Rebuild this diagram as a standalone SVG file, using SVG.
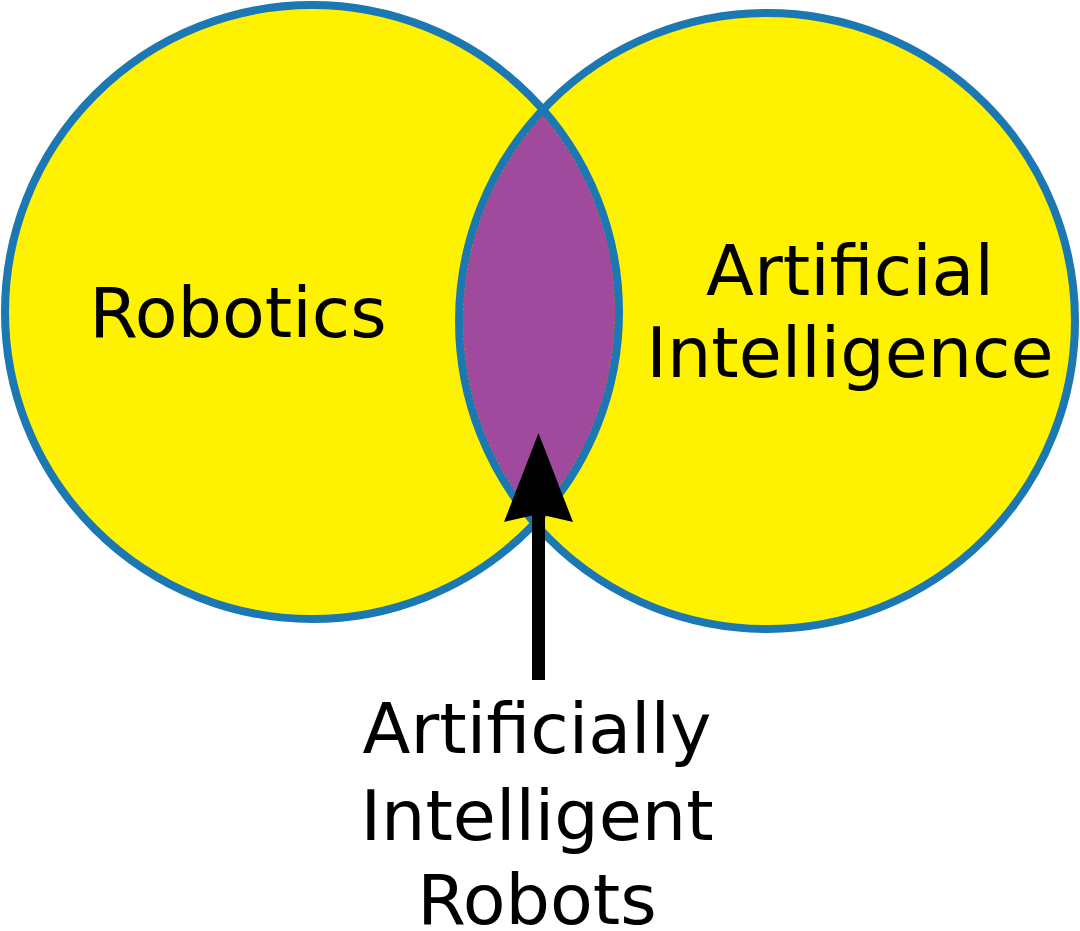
<svg xmlns="http://www.w3.org/2000/svg" width="1080" height="931" viewBox="0 0 1080 931">
  <style>
    .set { fill: #fff200; }
    .ring { fill: none; stroke: #1b78b3; stroke-width: 8; }
    .lens { fill: #a04a9e; stroke: #c8455a; stroke-width: 1.5; stroke-dasharray: 3 2; }
    .lbl { font-family: "DejaVu Sans", "Liberation Sans", sans-serif; font-size: 70px; fill: #000; text-anchor: middle; }
  </style>
  <rect width="1080" height="931" fill="#ffffff"/>
  <g id="robotics">
    <circle class="set" cx="312" cy="312" r="307"/>
  </g>
  <g id="artificial-intelligence">
    <circle class="set" cx="767" cy="321" r="308"/>
  </g>
  <g id="intersection">
    <path class="lens" d="M 542.8 115.7 A 303 303 0 0 1 534.9 517.3 A 304 304 0 0 1 542.8 115.7 Z"/>
  </g>
  <g id="rings">
    <circle class="ring" cx="312" cy="312" r="307"/>
    <circle class="ring" cx="767" cy="321" r="308"/>
  </g>
  <g id="labels">
    <text class="lbl" x="238" y="337">Robotics</text>
    <text class="lbl" x="850" y="295">Artificial</text>
    <text class="lbl" x="850" y="377">Intelligence</text>
  </g>
  <g id="connectors">
    <rect x="532" y="510" width="13" height="170" fill="#000"/>
    <polygon points="538.5,433 573,522 538.5,514 504,522" fill="#000"/>
  </g>
  <g id="result-label">
    <text class="lbl" x="537" y="753">Artificially</text>
    <text class="lbl" x="537" y="840">Intelligent</text>
    <text class="lbl" x="537" y="924">Robots</text>
  </g>
</svg>
